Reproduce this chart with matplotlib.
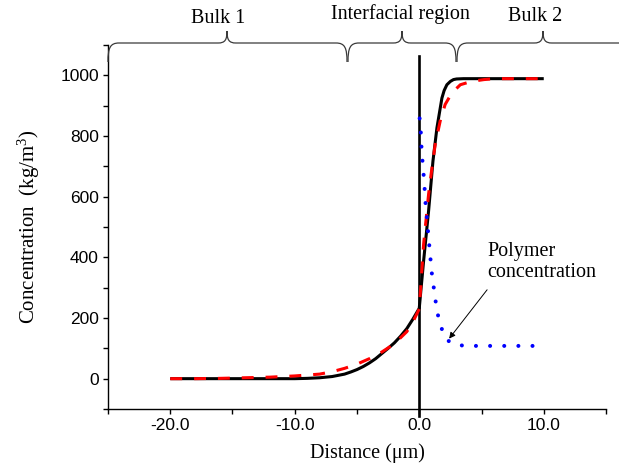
import matplotlib
matplotlib.use("Agg")
import matplotlib.pyplot as plt
from matplotlib.path import Path
from matplotlib.patches import PathPatch
from matplotlib.transforms import Affine2D
from matplotlib.ticker import MultipleLocator, FormatStrFormatter

# ---------------- data ----------------
black_x = [-20, -15, -10, -9, -8, -7, -6, -5.5, -5, -4.5, -4, -3.5, -3, -2.5, -2, -1.5, -1, -0.5, 0,
           0.35, 0.75, 1.1, 1.42, 1.82, 2.0, 2.22, 2.5, 2.75, 3.0, 3.55, 5, 10]
black_y = [0, 0, 0, 1, 3, 7, 15, 22, 30, 40, 52, 66, 83, 100, 118, 140, 165, 197, 232,
           388, 553, 717, 827, 925, 950, 969, 980, 986, 988, 989, 989, 989]

red_x = [-20, -18, -16, -14, -12, -10, -8, -7, -6, -5, -4, -3, -2, -1, -0.5, 0,
         0.35, 0.75, 1.02, 1.28, 1.68, 2.08, 2.62, 3.3, 4.2, 5.2, 6, 10]
red_y = [0, 0, 1, 3, 5, 9, 15, 23, 34, 48, 66, 88, 115, 155, 188, 230,
         443, 608, 695, 772, 849, 904, 942, 969, 980, 986, 989, 989]

blue_x = [0.03, 0.13, 0.18, 0.26, 0.35, 0.43, 0.5, 0.6, 0.7, 0.8, 0.9, 1.0, 1.15, 1.3, 1.5,
          1.82, 2.1, 2.49, 3.0, 3.69, 10]
blue_y = [858, 810, 763, 717, 673, 627, 581, 535, 488, 442, 396, 351, 305, 259, 210,
          163, 135, 119, 112, 108, 108]

x_major = [-20, -10, 0, 10]
y_major = [0, 200, 400, 600, 800, 1000]

region_labels = ["Bulk 1", "Interfacial region", "Bulk 2"]
annot_text = "Polymer\nconcentration"

# ---------------- style ----------------
SERIF = "Liberation Serif"
SANS = "Liberation Sans"
plt.rcParams["mathtext.fontset"] = "custom"
plt.rcParams["mathtext.rm"] = SERIF
plt.rcParams["mathtext.it"] = SERIF + ":italic"

W, H = 619, 471
fig = plt.figure(figsize=(W / 100, H / 100), dpi=100)
ax = fig.add_axes([108 / W, (H - 409) / H, (606 - 108) / W, (409 - 45) / H])

ax.axvline(0, ymin=-0.02, ymax=0.97, color="black", lw=1.9, clip_on=False, zorder=1)
ax.plot(black_x, black_y, color="black", lw=2.2, zorder=2, solid_capstyle="butt")
ax.plot(red_x, red_y, color="#ff0000", lw=2.2, dashes=(3.9, 3.9), zorder=3)
ax.plot(blue_x, blue_y, color="#0000ff", lw=2.9, dashes=(0.01, 3.5),
        dash_capstyle="round", zorder=4)

ax.set_xlim(-25, 15)
ax.set_ylim(-100, 1100)
ax.set_xticks(x_major)
ax.set_yticks(y_major)
ax.xaxis.set_minor_locator(MultipleLocator(5))
ax.yaxis.set_minor_locator(MultipleLocator(100))
ax.xaxis.set_major_formatter(FormatStrFormatter("%.1f"))
for s in ["top", "right"]:
    ax.spines[s].set_visible(False)
for s in ["left", "bottom"]:
    ax.spines[s].set_linewidth(1.0)
ax.tick_params(which="both", direction="out", length=3.5, width=1.0, pad=3)
for lab in ax.get_xticklabels() + ax.get_yticklabels():
    lab.set_fontfamily(SANS)
    lab.set_fontsize(12.5)

ax.set_xlabel("Distance (\u03bcm)", fontfamily=SERIF, fontsize=14.5)
ax.xaxis.set_label_coords((367 - 108) / 498, (409 - 443) / 364)
ax.set_ylabel("Concentration  (kg/m$^{3}$)", fontfamily=SERIF, fontsize=15)
ax.yaxis.set_label_coords((42 - 108) / 498, 0.5)

# annotation
ax.annotate("", xy=(2.4, 132), xytext=(5.45, 293),
            arrowprops=dict(arrowstyle="-|>", lw=0.7, color="black", mutation_scale=9,
                            shrinkA=0, shrinkB=0))
ax.text(5.45, 452, annot_text, fontfamily=SERIF, fontsize=14.5, ha="left", va="top",
        linespacing=1.15)

# ---------------- braces (figure pixel coords, y down) ----------------
pix = Affine2D().scale(1, -1).translate(0, H)

def brace(x0, xm, x1, right_tip=True):
    yt, yh, yp = 62, 43, 31
    verts = [(x0, yt), (x0, 48), (x0 + 2, yh), (x0 + 11, yh),
             (xm - 9, yh),
             (xm - 2, yh), (xm, 40), (xm, yp),
             (xm, 40), (xm + 2, yh), (xm + 9, yh)]
    codes = [Path.MOVETO, Path.CURVE4, Path.CURVE4, Path.CURVE4,
             Path.LINETO,
             Path.CURVE4, Path.CURVE4, Path.CURVE4,
             Path.CURVE4, Path.CURVE4, Path.CURVE4]
    if right_tip:
        verts += [(x1 - 11, yh), (x1 - 2, yh), (x1, 48), (x1, yt)]
        codes += [Path.LINETO, Path.CURVE4, Path.CURVE4, Path.CURVE4]
    else:
        verts += [(x1, yh)]
        codes += [Path.LINETO]
    p = PathPatch(Path(verts, codes), facecolor="none", edgecolor="#3a3a3a", lw=0.9,
                  transform=pix)
    fig.add_artist(p)

brace(108, 227, 347)
brace(348, 402, 456)
brace(457, 543, 625, right_tip=False)

label_pos = [(218, 23), (400, 19), (535, 21)]
for (lx, ly), txt in zip(label_pos, region_labels):
    fig.text(lx / W, 1 - ly / H, txt, fontfamily=SERIF, fontsize=14.5,
             ha="center", va="baseline")

fig.savefig("out.png", dpi=100)
